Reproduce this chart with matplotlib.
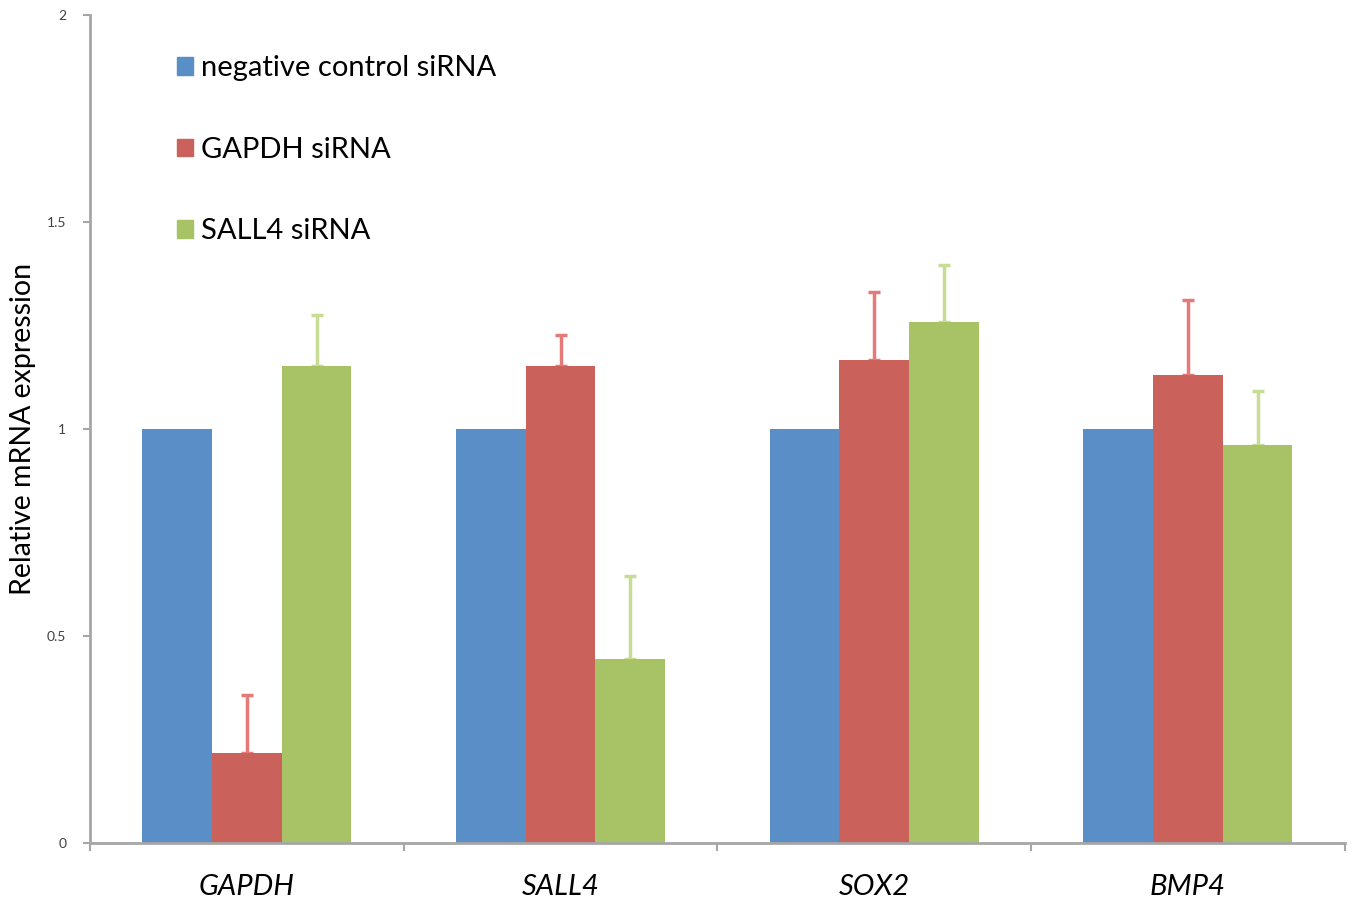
import matplotlib.pyplot as plt
import numpy as np
from matplotlib.patches import Patch

genes = ['GAPDH', 'SALL4', 'SOX2', 'BMP4']
series = ['negative control siRNA', 'GAPDH siRNA', 'SALL4 siRNA']
neg_ctrl = [1.0, 1.0, 1.0, 1.0]
gapdh_si = [0.217, 1.152, 1.167, 1.130]
gapdh_err = [0.140, 0.075, 0.164, 0.182]
sall4_si = [1.152, 0.444, 1.258, 0.961]
sall4_err = [0.123, 0.201, 0.138, 0.131]

colors = ['#5A8EC6', '#CA615A', '#A8C266']
err_colors = [None, '#E67A78', '#C8DC96']

plt.rcParams['font.family'] = ['Lato', 'DejaVu Sans']

fig = plt.figure(figsize=(13.52, 8.99), dpi=100, facecolor='white')
ax = fig.add_axes([0.0666, 0.0623, 0.928, 0.921])

x = np.arange(len(genes))
w = 0.222
vals = [neg_ctrl, gapdh_si, sall4_si]
errs = [None, gapdh_err, sall4_err]
for i in range(3):
    pos = x + (i - 1) * w
    ax.bar(pos, vals[i], width=w, color=colors[i], zorder=2)
    if errs[i] is not None:
        ax.errorbar(pos, vals[i], yerr=[np.zeros(4), errs[i]], fmt='none',
                    ecolor=err_colors[i], elinewidth=2.5, capsize=4, capthick=2.5, zorder=1)

ax.set_xlim(-0.5, 3.5)
ax.set_ylim(0, 2)
ax.set_yticks([0, 0.5, 1, 1.5, 2])
ax.set_yticklabels(['0', '0.5', '1', '1.5', '2'])
ax.set_xticks(x)
ax.set_xticklabels(genes, fontsize=21, style='italic')
ax.set_xticks(np.arange(-0.5, 4, 1), minor=True)
ax.tick_params(axis='x', which='major', length=0, pad=22)
ax.tick_params(axis='x', which='minor', length=6, width=1.5, color='#A6A6A6', direction='out')
ax.tick_params(axis='y', length=5, width=1.5, color='#A6A6A6', labelsize=10,
               labelcolor='#404040', pad=12)

for s in ['top', 'right']:
    ax.spines[s].set_visible(False)
for s in ['left', 'bottom']:
    ax.spines[s].set_color('#A6A6A6')
    ax.spines[s].set_linewidth(2)

ax.set_ylabel('Relative mRNA expression', fontsize=20.5, labelpad=8)

handles = [Patch(color=c) for c in colors]
ax.legend(handles, series, loc='upper left', bbox_to_anchor=(0.048, 0.983), frameon=False,
          fontsize=21, handlelength=0.55, handleheight=0.55, handletextpad=0.3,
          labelspacing=1.9)

plt.savefig('out.png', dpi=100)
